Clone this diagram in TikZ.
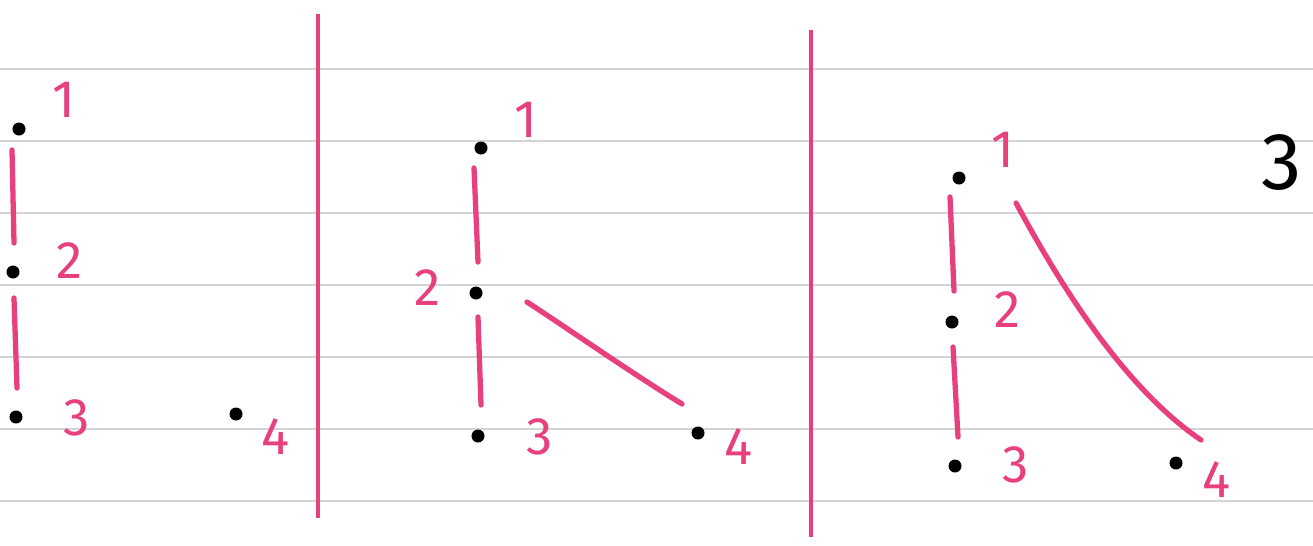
\documentclass[tikz,border=0pt]{standalone}
\usepackage{fontspec}
\setmainfont{Fira Sans}
\definecolor{NPink}{HTML}{E8407F}
\definecolor{NRule}{HTML}{D4D4D4}
\usetikzlibrary{positioning,calc}
\tikzset{
  dot/.style={circle, fill=black, inner sep=0pt, minimum size=0.13cm},
  lbl/.style={text=NPink, font=\fontsize{15}{15}\selectfont, inner sep=1pt},
  edge/.style={NPink, line width=1.5pt, line cap=round},
  divider/.style={NPink, line width=1.3pt},
  rule/.style={NRule, line width=0.75pt}
}
\begin{document}
\begin{tikzpicture}[x=0.01cm, y=-0.01cm]
  \useasboundingbox[fill=white] (0,0) rectangle (1313,545);
  \foreach \ry in {69,141,213,285,357,429,501}
    \draw[rule] (0,\ry) -- (1313,\ry);
  \draw[divider] (318,14) -- (318,518);
  \draw[divider] (811,30) -- (811,537);

  \node[dot] (a1) at (19,129) {};
  \node[dot] (a2) at (13,272) {};
  \node[dot] (a3) at (16,417) {};
  \node[dot] (a4) at (236,414) {};
  \node[lbl] (a1l) at (64,100) {1};
  \node[lbl] (a2l) at (70,261) {2};
  \node[lbl] (a3l) at (77,418) {3};
  \node[lbl] (a4l) at (276,437) {4};
  \draw[edge] ([shift={(-7,21)}]a1.center) -- ([shift={(1,-29)}]a2.center);
  \draw[edge] ([shift={(1,26)}]a2.center) -- ([shift={(1,-29)}]a3.center);

  \node[dot] (b1) at (481,148) {};
  \node[dot] (b2) at (476,293) {};
  \node[dot] (b3) at (478,436) {};
  \node[dot] (b4) at (698,433) {};
  \node[lbl] (b1l) at (526,120) {1};
  \node[lbl] (b2l) at (428,288) {2};
  \node[lbl] (b3l) at (540,437) {3};
  \node[lbl] (b4l) at (739,447) {4};
  \draw[edge] ([shift={(-7,20)}]b1.center) -- ([shift={(2,-31)}]b2.center);
  \draw[edge] ([shift={(2,24)}]b2.center) -- ([shift={(3,-31)}]b3.center);
  \draw[edge] ([shift={(51,9)}]b2.center) .. controls (570,330) and (630,372) .. ([shift={(-16,-29)}]b4.center);

  \node[dot] (c1) at (959,178) {};
  \node[dot] (c2) at (952,322) {};
  \node[dot] (c3) at (955,466) {};
  \node[dot] (c4) at (1176,463) {};
  \node[lbl] (c1l) at (1003,150) {1};
  \node[lbl] (c2l) at (1008,310) {2};
  \node[lbl] (c3l) at (1016,465) {3};
  \node[lbl] (c4l) at (1217,480) {4};
  \draw[edge] ([shift={(-9,19)}]c1.center) -- ([shift={(2,-31)}]c2.center);
  \draw[edge] ([shift={(1,25)}]c2.center) -- ([shift={(3,-29)}]c3.center);
  \draw[edge] ([shift={(57,25)}]c1.center) .. controls (1055,275) and (1120,385) .. ([shift={(25,-23)}]c4.center);

  \node[font=\fontsize{23}{23}\selectfont] (step3) at (1282,163) {3};
\end{tikzpicture}
\end{document}
